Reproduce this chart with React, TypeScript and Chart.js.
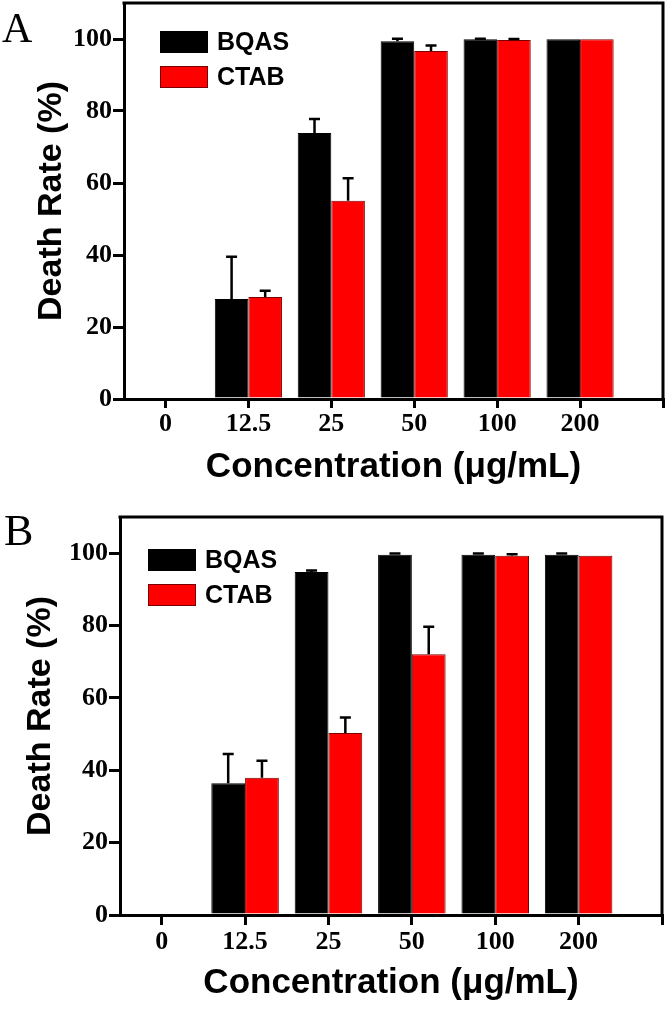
import React, { useEffect, useRef } from 'react';
import { Chart, registerables } from 'chart.js';

Chart.register(...registerables);

// ---------- data ----------
const categories = ['0', '12.5', '25', '50', '100', '200'];
const seriesNames = ['BQAS', 'CTAB'];
const yTicks = [0, 20, 40, 60, 80, 100];
const yMax = 110;

// Panel A
const aBQAS = [0, 27.8, 73.9, 99.4, 99.9, 99.9];
const aBQASErr = [0, 11.7, 3.9, 0.7, 0.2, 0];
const aCTAB = [0, 28.3, 55.1, 96.7, 99.7, 99.9];
const aCTABErr = [0, 1.8, 6.2, 1.5, 0.3, 0];

// Panel B
const bBQAS = [0, 36.4, 94.8, 99.6, 99.6, 99.6];
const bBQASErr = [0, 8.1, 0.4, 0.3, 0.3, 0.3];
const bCTAB = [0, 37.9, 50.3, 72.1, 99.3, 99.3];
const bCTABErr = [0, 4.7, 4.3, 7.6, 0.4, 0];

// ---------- styles ----------
const SANS = "'Liberation Sans', Arial, Helvetica, sans-serif";
const SERIF = "'Liberation Serif', 'Times New Roman', Times, serif";
const seriesColors = ['#000000', '#ff0000'];
const seriesBorders = ['#000000', '#7a0000'];
const W = 667;

type PanelCfg = {
  letter: string;
  letterSize: number;
  letterX: number;
  letterBaseline: number;
  top: number;
  height: number;
  padTop: number;
  padRight: number;
  axisLeft: number;
  xAxisHeight: number;
  xTickPad: number;
  xTickLen: number;
  xTitlePad: number;
  yTitlePad: number;
  legendDx: number;
  legendDy: number;
  values: number[][];
  errors: number[][];
};

const panelA: PanelCfg = {
  letter: 'A', letterSize: 42, letterX: 2, letterBaseline: 42,
  top: 0, height: 497, padTop: 3, padRight: 4, axisLeft: 124, xAxisHeight: 98,
  xTickPad: 1, xTickLen: 9, xTitlePad: 9, yTitlePad: 31,
  legendDx: 36, legendDy: 28,
  values: [aBQAS, aCTAB], errors: [aBQASErr, aCTABErr],
};

const panelB: PanelCfg = {
  letter: 'B', letterSize: 44, letterX: 4, letterBaseline: 45,
  top: 500, height: 509, padTop: 17, padRight: 5, axisLeft: 120, xAxisHeight: 94,
  xTickPad: 2, xTickLen: 10, xTitlePad: 5, yTitlePad: 20,
  legendDx: 28, legendDy: 32,
  values: [bBQAS, bCTAB], errors: [bBQASErr, bCTABErr],
};

const framePlugin = {
  id: 'frame',
  afterDraw(chart: any) {
    const { ctx, chartArea } = chart;
    ctx.save();
    ctx.strokeStyle = '#000';
    ctx.lineWidth = 3;
    ctx.beginPath();
    ctx.moveTo(chartArea.left - 1.5, chartArea.top);
    ctx.lineTo(chartArea.right, chartArea.top);
    ctx.lineTo(chartArea.right, chartArea.bottom);
    ctx.stroke();
    ctx.restore();
  },
};

const errorBarPlugin = {
  id: 'errorBars',
  afterDatasetsDraw(chart: any) {
    const { ctx } = chart;
    const yScale = chart.scales.y;
    ctx.save();
    ctx.strokeStyle = '#000';
    ctx.lineWidth = 2.5;
    chart.data.datasets.forEach((ds: any, di: number) => {
      const meta = chart.getDatasetMeta(di);
      meta.data.forEach((bar: any, i: number) => {
        const err = ds.errors ? ds.errors[i] : 0;
        if (!err) return;
        const v = ds.data[i].y;
        const yTop = yScale.getPixelForValue(v + err);
        const yBase = yScale.getPixelForValue(v);
        ctx.beginPath();
        ctx.moveTo(bar.x, yBase);
        ctx.lineTo(bar.x, yTop);
        ctx.moveTo(bar.x - 5.5, yTop);
        ctx.lineTo(bar.x + 5.5, yTop);
        ctx.stroke();
      });
    });
    ctx.restore();
  },
};

const legendPlugin = {
  id: 'insideLegend',
  afterDraw(chart: any, _args: any, opts: any) {
    const { ctx, chartArea } = chart;
    const bw = 48, bh = 22, rowGap = 35;
    ctx.save();
    chart.data.datasets.forEach((ds: any, i: number) => {
      const x = chartArea.left + opts.dx;
      const y = chartArea.top + opts.dy + i * rowGap;
      ctx.fillStyle = ds.backgroundColor;
      ctx.fillRect(x, y, bw, bh);
      ctx.strokeStyle = ds.borderColor;
      ctx.lineWidth = 1;
      ctx.strokeRect(x + 0.5, y + 0.5, bw - 1, bh - 1);
      ctx.fillStyle = '#000';
      ctx.font = `bold 25px ${SANS}`;
      ctx.textBaseline = 'middle';
      ctx.textAlign = 'left';
      ctx.fillText(ds.label, x + bw + 9, y + bh / 2 + 1);
    });
    ctx.restore();
  },
};

const letterPlugin = {
  id: 'panelLetter',
  afterDraw(chart: any, _args: any, opts: any) {
    const { ctx } = chart;
    ctx.save();
    ctx.fillStyle = '#000';
    ctx.font = `${opts.size}px ${SERIF}`;
    ctx.textBaseline = 'alphabetic';
    ctx.textAlign = 'left';
    ctx.fillText(opts.text, opts.x, opts.baseline);
    ctx.restore();
  },
};

function Panel({ cfg }: { cfg: PanelCfg }) {
  const ref = useRef<HTMLCanvasElement>(null);

  useEffect(() => {
    const canvas = ref.current;
    if (!canvas) return;
    const chart = new Chart(canvas, {
      type: 'bar',
      data: {
        datasets: cfg.values.map((vals, s) => ({
          label: seriesNames[s],
          data: vals.map((v, i) => ({ x: i, y: v })),
          backgroundColor: seriesColors[s],
          borderColor: seriesBorders[s],
          borderWidth: 1,
          categoryPercentage: 0.81,
          barPercentage: 1,
          errors: cfg.errors[s],
        })) as any,
      },
      options: {
        responsive: false,
        animation: false,
        events: [],
        layout: { padding: { left: 0, top: cfg.padTop, right: cfg.padRight, bottom: 0 } },
        plugins: {
          legend: { display: false },
          tooltip: { enabled: false },
          insideLegend: { dx: cfg.legendDx, dy: cfg.legendDy },
          panelLetter: { text: cfg.letter, size: cfg.letterSize, x: cfg.letterX, baseline: cfg.letterBaseline },
        } as any,
        scales: {
          x: {
            type: 'linear',
            min: -0.5,
            max: categories.length,
            offset: false,
            afterBuildTicks: (s: any) => {
              s.ticks = [...categories.map((_, i) => ({ value: i })), { value: categories.length }];
            },
            afterFit: (s: any) => {
              s.height = cfg.xAxisHeight;
              s.paddingLeft = 0;
              s.paddingRight = 0;
            },
            ticks: {
              autoSkip: false,
              maxRotation: 0,
              minRotation: 0,
              padding: cfg.xTickPad,
              color: '#000',
              font: { family: SERIF, size: 26, weight: 'bold' },
              callback: (v: any) => categories[v] ?? '',
            },
            grid: {
              display: true,
              offset: false,
              drawOnChartArea: false,
              drawTicks: true,
              tickLength: cfg.xTickLen,
              tickWidth: 3,
              tickColor: '#000',
              color: '#000',
              lineWidth: 3,
            },
            border: { display: true, width: 3, color: '#000' },
            title: {
              display: true,
              text: 'Concentration (μg/mL)',
              color: '#000',
              font: { family: SANS, size: 35, weight: 'bold' },
              padding: { top: 0, bottom: cfg.xTitlePad },
            },
          },
          y: {
            type: 'linear',
            min: 0,
            max: yMax,
            afterBuildTicks: (s: any) => {
              s.ticks = yTicks.map((v) => ({ value: v }));
            },
            afterFit: (s: any) => {
              s.width = cfg.axisLeft;
              s.paddingTop = 0;
              s.paddingBottom = 0;
            },
            ticks: {
              padding: 1,
              color: '#000',
              font: { family: SERIF, size: 26, weight: 'bold' },
            },
            grid: {
              display: true,
              drawOnChartArea: false,
              drawTicks: true,
              tickLength: 11,
              tickWidth: 3,
              tickColor: '#000',
              color: '#000',
              lineWidth: 3,
            },
            border: { display: true, width: 3, color: '#000' },
            title: {
              display: true,
              text: 'Death Rate (%)',
              color: '#000',
              font: { family: SANS, size: 34, weight: 'bold' },
              padding: { top: cfg.yTitlePad, bottom: 0 },
            },
          },
        } as any,
      },
      plugins: [framePlugin, errorBarPlugin, legendPlugin, letterPlugin],
    });
    return () => chart.destroy();
  }, [cfg]);

  return (
    <canvas
      ref={ref}
      width={W}
      height={cfg.height}
      style={{ position: 'absolute', left: 0, top: cfg.top, width: W, height: cfg.height, display: 'block' }}
    />
  );
}

export default function App() {
  return (
    <div style={{ position: 'absolute', left: 0, top: 0, width: W, height: 1009, background: '#fff', overflow: 'hidden' }}>
      <Panel cfg={panelA} />
      <Panel cfg={panelB} />
    </div>
  );
}
